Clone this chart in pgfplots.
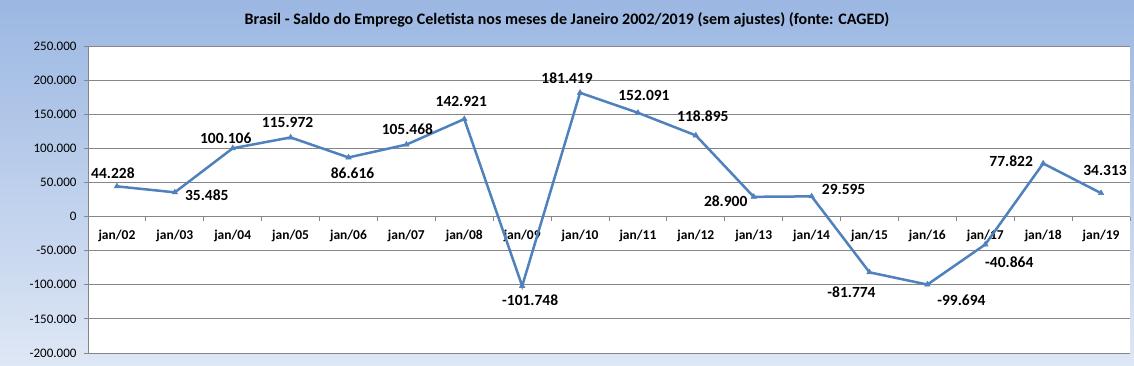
\documentclass[border=0pt]{standalone}
\usepackage{pgfplots}
\pgfplotsset{compat=1.18}
\usepackage{pgfplotstable}
\usepackage{fontspec}
\setmainfont{Carlito}
\definecolor{linec}{RGB}{79,129,189}
\definecolor{bgtop}{RGB}{155,183,226}
\definecolor{bgbot}{RGB}{222,231,245}
\definecolor{gridc}{RGB}{134,134,134}
\pgfplotstableread{
x y dx dy
0 44228 -4 13
1 35485 32 -3
2 100106 -7 10
3 115972 -3 15
4 86616 4 -16
5 105468 1 15
6 142921 -3 18
7 -101748 8 -14
8 181419 -13 15
9 152091 6 17
10 118895 7 19
11 28900 -28 -4
12 29595 32 7
13 -81774 -18 -20
14 -99694 34 -16
15 -40864 24 -18
16 77822 -32 2
17 34313 4 23
}\saldo
\begin{document}
\begin{tikzpicture}[x=1pt,y=1pt]
\useasboundingbox (0,0) rectangle (1134,366);
\shade[top color=bgtop, bottom color=bgbot] (0,0) rectangle (1134,366);
\node[font=\fontsize{16}{18}\selectfont\bfseries] at (567,346) {Brasil - Saldo do Emprego Celetista nos meses de Janeiro 2002/2019 (sem ajustes) (fonte: CAGED)};
\begin{axis}[
  scale only axis, width=1042pt, height=307pt,
  at={(88pt,13pt)}, anchor=south west,
  axis background/.style={fill=white},
  xmin=-0.5, xmax=17.5, ymin=-200000, ymax=250000,
  axis x line=middle, axis y line=left,
  axis line style={-, draw=gridc, line width=0.8pt},
  xtick={0,...,17},
  xticklabels={jan/02,jan/03,jan/04,jan/05,jan/06,jan/07,jan/08,jan/09,jan/10,jan/11,jan/12,jan/13,jan/14,jan/15,jan/16,jan/17,jan/18,jan/19},
  minor xtick={-0.5,0.5,...,17.5},
  major x tick style={draw=none},
  minor x tick style={draw=gridc, line width=0.8pt},
  minor tick length=4pt,
  xtick align=outside,
  ytick={-200000,-150000,...,250000},
  ytick align=outside,
  major tick length=4pt,
  y tick style={draw=gridc, line width=0.8pt},
  ymajorgrids, grid style={draw=gridc, line width=0.8pt},
  scaled ticks=false,
  /pgf/number format/.cd, fixed, precision=0, 1000 sep={.}, assume math mode=true,
  /pgfplots/.cd,
  yticklabel style={font=\fontsize{13}{15}\selectfont, xshift=-4pt},
  xticklabel style={font=\fontsize{13.5}{15}\selectfont\bfseries, yshift=-6pt},
  clip=false,
]
\addplot[color=linec, line width=2.5pt, mark=triangle*, mark size=3.2pt,
  mark options={line width=0.5pt},
  nodes near coords,
  visualization depends on={\thisrow{dx} \as \dx},
  visualization depends on={\thisrow{dy} \as \dy},
  every node near coord/.append style={anchor=center, xshift=\dx, yshift=\dy,
     font=\fontsize{15.5}{17}\selectfont\bfseries, text=black}
] table[x=x, y=y] {\saldo};
\end{axis}
\end{tikzpicture}
\end{document}
